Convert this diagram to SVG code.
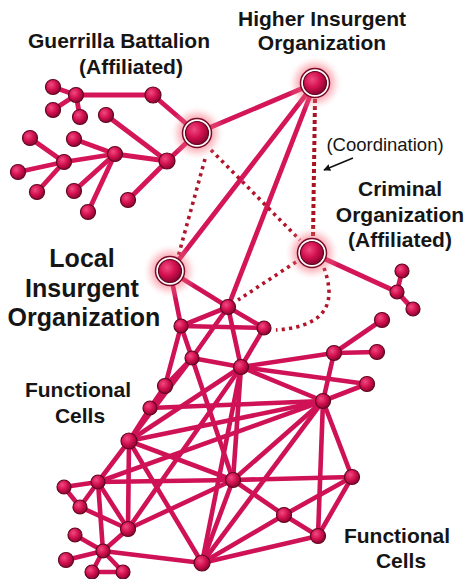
<svg xmlns="http://www.w3.org/2000/svg" width="468" height="579" viewBox="0 0 468 579">
<defs>
<radialGradient id="ng" cx="38%" cy="35%" r="65%">
<stop offset="0" stop-color="#f04a84"/>
<stop offset="0.55" stop-color="#d3104f"/>
<stop offset="1" stop-color="#8e0632"/>
</radialGradient>
<radialGradient id="glow" cx="50%" cy="50%" r="50%">
<stop offset="0.35" stop-color="#f03a55" stop-opacity="0.7"/>
<stop offset="0.7" stop-color="#f87a88" stop-opacity="0.3"/>
<stop offset="1" stop-color="#ffffff" stop-opacity="0"/>
</radialGradient>
<marker id="ah" viewBox="0 0 10 10" refX="9" refY="5" markerWidth="7" markerHeight="7" orient="auto" markerUnits="userSpaceOnUse">
<path d="M0,0 L10,5 L0,10 z" fill="#111"/>
</marker>
<style>
.e{stroke:#cf1256;stroke-width:4.6;stroke-linecap:round;fill:none}
.ge{stroke:#d41558;stroke-width:4.8;stroke-linecap:round;fill:none}
.dot{stroke:#b3142a;stroke-width:3.6;stroke-dasharray:3.2 4.2;fill:none}
.dot2{stroke:#a8141f;stroke-width:4;stroke-dasharray:4 3;fill:none}
.n{fill:url(#ng);stroke:#5e0620;stroke-width:1.2}
.gl{fill:url(#glow)}
.ring{fill:#fff;stroke:#7a0a28;stroke-width:1.5}
.t{font-family:"Liberation Sans",Arial,sans-serif;font-weight:bold;fill:#151515;text-anchor:middle}
.tr{font-family:"Liberation Sans",Arial,sans-serif;fill:#151515;text-anchor:middle}
</style>
</defs>
<rect width="468" height="579" fill="#ffffff"/>

<g id="connectors">
<line class="ge" x1="197" y1="133" x2="153" y2="95"/>
<line class="ge" x1="153" y1="95" x2="76" y2="95"/>
<line class="ge" x1="76" y1="95" x2="53" y2="87"/>
<line class="ge" x1="76" y1="95" x2="53" y2="110"/>
<line class="ge" x1="76" y1="95" x2="80" y2="117"/>
<line class="ge" x1="197" y1="133" x2="167" y2="161"/>
<line class="ge" x1="167" y1="161" x2="106" y2="115"/>
<line class="ge" x1="167" y1="161" x2="115" y2="154"/>
<line class="ge" x1="167" y1="161" x2="128" y2="200"/>
<line class="ge" x1="115" y1="154" x2="74" y2="139"/>
<line class="ge" x1="115" y1="154" x2="64" y2="162"/>
<line class="ge" x1="115" y1="154" x2="74" y2="191"/>
<line class="ge" x1="115" y1="154" x2="88" y2="212"/>
<line class="ge" x1="64" y1="162" x2="30" y2="138"/>
<line class="ge" x1="64" y1="162" x2="18" y2="172"/>
<line class="ge" x1="64" y1="162" x2="37" y2="192"/>
<line class="ge" x1="197" y1="133" x2="315" y2="83"/>
<line class="ge" x1="315" y1="83" x2="170" y2="271"/>
<line class="ge" x1="315" y1="83" x2="228" y2="307"/>
<line class="ge" x1="312" y1="253" x2="397" y2="292"/>
<line class="ge" x1="397" y1="292" x2="402" y2="271"/>
<line class="ge" x1="397" y1="292" x2="413" y2="309"/>
<line class="dot" x1="205" y1="159" x2="178" y2="257"/>
<line class="dot" x1="211" y1="150" x2="300" y2="240"/>
<line class="dot2" x1="315" y1="99" x2="313" y2="238"/>
<line class="dot" x1="296" y1="262" x2="238" y2="300"/>
<path class="dot" d="M324,268 C334,296 334,326 276,330"/>
<line class="e" x1="170" y1="271" x2="228" y2="307"/>
<line class="e" x1="170" y1="271" x2="181" y2="326"/>
<line class="e" x1="181" y1="326" x2="228" y2="307"/>
<line class="e" x1="181" y1="326" x2="264" y2="328"/>
<line class="e" x1="228" y1="307" x2="264" y2="328"/>
<line class="e" x1="228" y1="307" x2="192" y2="358"/>
<line class="e" x1="228" y1="307" x2="241" y2="367"/>
<line class="e" x1="264" y1="328" x2="241" y2="367"/>
<line class="e" x1="181" y1="326" x2="192" y2="358"/>
<line class="e" x1="192" y1="358" x2="241" y2="367"/>
<line class="e" x1="181" y1="326" x2="165" y2="386"/>
<line class="e" x1="192" y1="358" x2="165" y2="386"/>
<line class="e" x1="165" y1="386" x2="150" y2="408"/>
<line class="e" x1="150" y1="408" x2="129" y2="441"/>
<line class="e" x1="150" y1="408" x2="323" y2="401"/>
<line class="e" x1="192" y1="358" x2="233" y2="480"/>
<line class="e" x1="241" y1="367" x2="233" y2="480"/>
<line class="e" x1="241" y1="367" x2="334" y2="353"/>
<line class="e" x1="241" y1="367" x2="367" y2="384"/>
<line class="e" x1="241" y1="367" x2="323" y2="401"/>
<line class="e" x1="241" y1="367" x2="129" y2="441"/>
<line class="e" x1="241" y1="367" x2="128" y2="529"/>
<line class="e" x1="241" y1="367" x2="202" y2="563"/>
<line class="e" x1="334" y1="353" x2="377" y2="352"/>
<line class="e" x1="334" y1="353" x2="382" y2="320"/>
<line class="e" x1="334" y1="353" x2="323" y2="401"/>
<line class="e" x1="323" y1="401" x2="367" y2="384"/>
<line class="e" x1="323" y1="401" x2="352" y2="477"/>
<line class="e" x1="323" y1="401" x2="318" y2="536"/>
<line class="e" x1="323" y1="401" x2="233" y2="480"/>
<line class="e" x1="323" y1="401" x2="202" y2="563"/>
<line class="e" x1="323" y1="401" x2="129" y2="441"/>
<line class="e" x1="323" y1="401" x2="98" y2="482"/>
<line class="e" x1="233" y1="480" x2="352" y2="477"/>
<line class="e" x1="233" y1="480" x2="284" y2="515"/>
<line class="e" x1="352" y1="477" x2="284" y2="515"/>
<line class="e" x1="352" y1="477" x2="318" y2="536"/>
<line class="e" x1="284" y1="515" x2="318" y2="536"/>
<line class="e" x1="202" y1="563" x2="284" y2="515"/>
<line class="e" x1="202" y1="563" x2="318" y2="536"/>
<line class="e" x1="202" y1="563" x2="233" y2="480"/>
<line class="e" x1="129" y1="441" x2="192" y2="358"/>
<line class="e" x1="129" y1="441" x2="233" y2="480"/>
<line class="e" x1="129" y1="441" x2="98" y2="482"/>
<line class="e" x1="129" y1="441" x2="128" y2="529"/>
<line class="e" x1="129" y1="441" x2="202" y2="563"/>
<line class="e" x1="98" y1="482" x2="64" y2="487"/>
<line class="e" x1="64" y1="487" x2="80" y2="507"/>
<line class="e" x1="98" y1="482" x2="80" y2="507"/>
<line class="e" x1="98" y1="482" x2="128" y2="529"/>
<line class="e" x1="98" y1="482" x2="103" y2="551"/>
<line class="e" x1="98" y1="482" x2="233" y2="480"/>
<line class="e" x1="128" y1="529" x2="103" y2="551"/>
<line class="e" x1="80" y1="507" x2="128" y2="529"/>
<line class="e" x1="128" y1="529" x2="233" y2="480"/>
<line class="e" x1="103" y1="551" x2="75" y2="535"/>
<line class="e" x1="103" y1="551" x2="66" y2="560"/>
<line class="e" x1="103" y1="551" x2="92" y2="572"/>
<line class="e" x1="103" y1="551" x2="123" y2="572"/>
<line class="e" x1="92" y1="572" x2="123" y2="572"/>
<line class="e" x1="103" y1="551" x2="202" y2="563"/>
<line x1="353" y1="158" x2="324" y2="170" stroke="#111" stroke-width="1.5" marker-end="url(#ah)"/>
</g>

<g id="guerrilla-leaves">
<circle class="n" cx="153" cy="95" r="8"/>
<circle class="n" cx="76" cy="95" r="7.5"/>
<circle class="n" cx="53" cy="87" r="7.5"/>
<circle class="n" cx="53" cy="110" r="7.5"/>
<circle class="n" cx="80" cy="117" r="7.5"/>
<circle class="n" cx="106" cy="115" r="7.5"/>
<circle class="n" cx="30" cy="138" r="7.5"/>
<circle class="n" cx="74" cy="139" r="7.5"/>
<circle class="n" cx="115" cy="154" r="7.5"/>
<circle class="n" cx="167" cy="161" r="8"/>
<circle class="n" cx="64" cy="162" r="7.5"/>
<circle class="n" cx="18" cy="172" r="7.5"/>
<circle class="n" cx="37" cy="192" r="7.5"/>
<circle class="n" cx="74" cy="191" r="7.5"/>
<circle class="n" cx="128" cy="200" r="7.5"/>
<circle class="n" cx="88" cy="212" r="7.5"/>
</g>

<g id="criminal-leaves">
<circle class="n" cx="397" cy="292" r="7"/>
<circle class="n" cx="402" cy="271" r="7"/>
<circle class="n" cx="413" cy="309" r="7"/>
</g>

<g id="local-cells">
<circle class="n" cx="228" cy="307" r="7.5"/>
<circle class="n" cx="181" cy="326" r="7"/>
<circle class="n" cx="264" cy="328" r="7"/>
<circle class="n" cx="192" cy="358" r="7"/>
<circle class="n" cx="241" cy="367" r="7.5"/>
<circle class="n" cx="165" cy="386" r="7.5"/>
<circle class="n" cx="150" cy="408" r="7"/>
<circle class="n" cx="129" cy="441" r="8"/>
<circle class="n" cx="98" cy="482" r="7"/>
<circle class="n" cx="64" cy="487" r="7"/>
<circle class="n" cx="80" cy="507" r="7"/>
<circle class="n" cx="128" cy="529" r="7.5"/>
<circle class="n" cx="75" cy="535" r="7"/>
<circle class="n" cx="103" cy="551" r="7"/>
<circle class="n" cx="66" cy="560" r="7.5"/>
<circle class="n" cx="92" cy="572" r="7"/>
<circle class="n" cx="123" cy="572" r="7"/>
<circle class="n" cx="202" cy="563" r="8"/>
<circle class="n" cx="233" cy="480" r="7.5"/>
<circle class="n" cx="284" cy="515" r="7.5"/>
<circle class="n" cx="318" cy="536" r="7.5"/>
<circle class="n" cx="352" cy="477" r="7.5"/>
<circle class="n" cx="323" cy="401" r="7.5"/>
<circle class="n" cx="367" cy="384" r="7.5"/>
<circle class="n" cx="334" cy="353" r="7.5"/>
<circle class="n" cx="377" cy="352" r="7.5"/>
<circle class="n" cx="382" cy="320" r="7.5"/>
</g>

<g id="higher-insurgent">
<circle class="gl" cx="315" cy="83" r="28"/>
<circle class="ring" cx="315" cy="83" r="14.5"/>
<circle class="n" cx="315" cy="83" r="11.5"/>
</g>
<g id="guerrilla-hub">
<circle class="gl" cx="197" cy="133" r="28"/>
<circle class="ring" cx="197" cy="133" r="14.5"/>
<circle class="n" cx="197" cy="133" r="11.5"/>
</g>
<g id="local-insurgent">
<circle class="gl" cx="170" cy="271" r="28"/>
<circle class="ring" cx="170" cy="271" r="14.5"/>
<circle class="n" cx="170" cy="271" r="11.5"/>
</g>
<g id="criminal-hub">
<circle class="gl" cx="312" cy="253" r="28"/>
<circle class="ring" cx="312" cy="253" r="14.5"/>
<circle class="n" cx="312" cy="253" r="11.5"/>
</g>

<g id="labels">
<text class="t" x="119" y="48" font-size="21">Guerrilla Battalion</text>
<text class="t" x="131" y="74" font-size="21">(Affiliated)</text>
<text class="t" x="322" y="26" font-size="21">Higher Insurgent</text>
<text class="t" x="322" y="50" font-size="21">Organization</text>
<text class="tr" x="385" y="151" font-size="18.5">(Coordination)</text>
<text class="t" x="400" y="196" font-size="21">Criminal</text>
<text class="t" x="400" y="222" font-size="21">Organization</text>
<text class="t" x="400" y="247" font-size="21">(Affiliated)</text>
<text class="t" x="82" y="267" font-size="25">Local</text>
<text class="t" x="82" y="297" font-size="25">Insurgent</text>
<text class="t" x="84" y="326" font-size="25">Organization</text>
<text class="t" x="78" y="397" font-size="21">Functional</text>
<text class="t" x="80" y="423" font-size="21">Cells</text>
<text class="t" x="397" y="543" font-size="21">Functional</text>
<text class="t" x="401" y="568" font-size="21">Cells</text>
</g>
</svg>
